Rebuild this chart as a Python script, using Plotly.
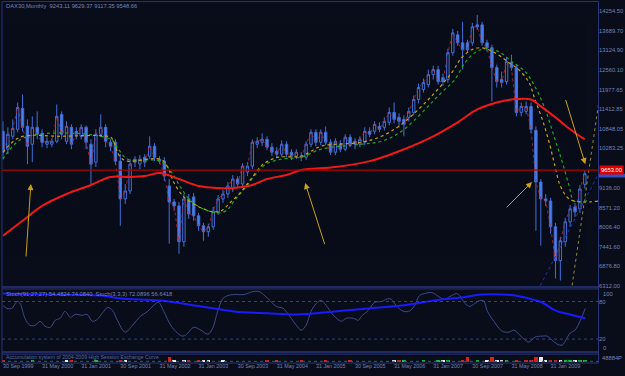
import plotly.graph_objects as go

W, H = 625, 376
BG = "#090d1a"
BORDER = "#283478"
TXT = "#7483b8"
CANDLE = "#4170d8"

# ---------------- data ----------------
opens = [10778,10260,10634,10836,11441,10922,10404,10894,10721,10404,
         10404,10490,11268,10490,10894,10778,10634,10894,10404,9885,
         10692,10894,10461,10461,9914,8819,9050,9971,9827,10029,
         10058,10346,9971,9914,9194,8732,8617,7580,8819,8877,
         8329,8041,7868,8012,8444,8819,8963,9107,9395,9251,
         9597,9770,10404,10461,10548,10318,10202,10116,10404,10173,
         10058,10058,10029,10404,10750,10461,10750,10461,10173,10404,
         10260,10606,10490,10404,10461,10778,10778,10922,10894,11038,
         11326,11182,11124,11182,11326,11700,11989,12133,12421,12565,
         12334,12277,13055,13574,13343,13343,13343,13862,13862,13343,
         13199,12623,12277,12219,12767,12623,11326,11355,11499,10807,
         9309,8819,8761,8012,7032,7580,8156,8588,8531,9243.11]
highs = [11067,10894,11124,11614,11845,11124,11211,11355,10836,10606,
         10577,11556,11355,11067,10980,10894,10980,10951,10548,10836,
         11268,10980,10548,10548,10116,9251,9971,10058,10087,10116,
         10634,10433,10058,10029,9395,8819,8732,8963,8963,8992,
         8415,8127,8098,8588,8934,9079,9309,9511,9482,9856,
         9885,10548,10606,10721,10634,10433,10318,10519,10490,10260,
         10260,10173,10490,10836,10836,10836,10922,10548,10577,10519,
         10692,10692,10577,10634,10894,10894,11067,11038,11182,11470,
         11614,11297,11240,11470,11816,12162,12306,12565,12680,12680,
         12450,13170,13747,13689,13948,13430,13919,14150,13948,13430,
         13285,12709,12507,12911,12997,12709,11614,11643,11614,10922,
         9395,8963,8848,8127,7724,8271,8646,8704,9223,9629.37]
lows = [9971,10116,10548,10750,10778,9827,9885,10548,10318,10289,
        10318,10433,10548,10404,10260,10548,10548,10260,9251,9741,
        10606,10318,10202,9799,8041,8675,8963,9741,9683,9741,
        9971,9914,9827,9338,7522,8473,7234,7436,8243,8185,
        7897,7609,7724,7926,8358,8704,8848,9021,9136,9165,
        9482,9683,10289,10346,10231,10058,10000,10029,10029,9943,
        9971,9914,9943,10318,10346,10375,10375,10087,10087,10173,
        10202,10318,10260,10318,10375,10606,10692,10750,10807,10951,
        11009,10894,10634,11067,11240,11585,11902,12046,12277,12133,
        12104,12190,12968,13257,12565,13055,13257,13718,13257,13084,
        11643,12046,12046,12133,12536,11211,11211,11268,10721,7897,
        7465,8617,7810,6514,6456,7436,8012,8300,8415,9117.35]
closes = [10173,10692,10865,11470,10894,10346,10894,10692,10461,10490,
          10490,11211,10692,10922,10404,10692,10894,10461,9827,10692,
          10894,10490,10346,9914,8819,9050,9827,9885,9971,9885,
          10346,10029,9914,9482,8732,8617,7580,8819,8387,8329,
          8041,7868,8012,8473,8819,8963,9194,9395,9251,9770,
          9770,10461,10490,10548,10318,10173,10116,10404,10116,10058,
          10173,10029,10404,10750,10461,10750,10461,10173,10490,10260,
          10606,10404,10404,10548,10778,10692,10980,10836,11067,11326,
          11124,11067,10980,11355,11700,12046,12190,12421,12565,12219,
          12219,13055,13631,13343,13141,13141,13804,13804,13343,13199,
          12623,12219,12190,12796,12623,11326,11499,11499,10836,9309,
          8819,8761,8012,7032,7609,8156,8531,8444,9107,9548.66]
bars = list(range(len(closes)))

# slow red moving average (bar index, price)
ma_red_x = [0,4,8,13,18,22,26,29,32,36,40,44,47,51,54,58,61,68,75,81,88,93,97,101,104,108,110,113,116,118,119]
ma_red_y = [7753,8185,8617,8963,9223,9453,9453,9482,9568,9395,9194,9136,9136,9223,9395,9511,9655,9741,9914,
            10202,10634,11038,11413,11614,11700,11700,11499,11182,10836,10634,10548]

# yellow dotted moving average
ma_yel_x = [0,3.5,11.7,22,22.6,24,25.5,32.2,33.7,34.9,36.8,39,41,43.1,44.6,46.6,48.7,50.7,52.8,54.2,56.3,61,
            65.1,73.3,77.4,81.5,87,91.8,93.8,95.9,97.9,100.6,103.5,105.5,107.6,108.8,110.3,111.7,112.9,114,
            115.8,118.5,122]
ma_yel_y = [10173,10606,10634,10606,10490,10029,9914,9971,9741,9309,8905,8675,8531,8444,8473,8732,9021,9395,
            9770,9914,10029,10058,10346,10461,10634,10980,11700,12478,12911,13141,13199,13055,12767,12565,
            12190,11700,11124,10461,9770,9194,8819,8732,8761]

# green dotted moving average
ma_grn_x = [0,4.5,22,23.6,25.5,32.2,34.3,36.3,38.4,41,43.5,45.6,47.6,49.7,51.7,53.8,56.9,61,65.1,73.3,77.4,
            81.5,89.7,92.4,94.5,96.5,98.6,101.4,104.1,106.8,108.8,110.9,112.9,114.4,115.8,116.8,119.5]
ma_grn_y = [9971,10606,10548,10260,9971,9914,9626,9165,8761,8531,8415,8473,8819,9165,9539,9827,9971,10029,
            10260,10404,10490,10778,11902,12277,12767,13055,13170,13084,12796,12507,12075,11413,10548,9885,
            9194,8761,8761]

# hand-drawn dotted trend lines on the right
trend_olive_x = [116.4, 122.6]
trend_olive_y = [6312, 12334]
trend_blue_x = [109.9, 122.6]
trend_blue_y = [6312, 9770]

# yellow arrows: (tail bar, tail price, head bar, head price)
arrows = [(4.7, 7110, 5.7, 9251),
          (65.9, 7465, 61.8, 9280),
          (102.7, 8531, 108.2, 9309),
          (115.0, 11730, 119.1, 9827)]

hline_price = 9653.00

# stochastic (3,3,3) main line readings
stoch_k_x = [0,0.8,1.8,2.9,3.5,4.5,5.5,6.6,7.6,8.6,9.7,10.7,11.7,12.7,13.8,14.8,16.2,17.2,18.3,19.3,20.3,21.4,
             22.4,23.4,25,26.5,28.1,29.6,30.8,31.8,32.9,34.3,35.7,36.8,37.8,39,40.5,41.9,42.9,43.9,45,46,47.2,
             49.3,51.1,52.4,54.2,55.9,57.3,58.5,60,61,62,63,64.1,65.1,66.1,67.6,69.2,70.2,71.7,72.7,73.3,74.7,
             76,77.4,79.1,80.1,81.5,83,84.2,85.2,86.2,87.7,89.1,90.3,91.4,92.8,93.4,94.5,95.5,96.5,97.5,98.4,
             99,100.4,102.1,103.5,104.5,105.7,106.8,107.6,108.8,110.3,111.3,112.3,113.3,114.4,115,116,117,
             118.1,119.1]
stoch_k_v = [73.7,69,69,80,76.8,53.2,42.1,42.1,48.4,40.5,38.9,50,53.2,64.2,54.7,59.5,57.9,59.5,48.4,51.6,61.1,
             70.5,65.8,50,31.1,42.1,56.3,64.2,73.7,78.4,64.2,42.1,29.5,24.7,29.5,38.9,34.2,27.9,37.4,64.2,84.7,
             89.5,91.1,91.1,95.8,95.8,84.7,72.1,69,57.9,42.1,34.2,42.1,64.2,76.8,81.6,73.7,57.9,48.4,53.2,53.2,
             50,56.3,65.8,78.4,80,84.7,76.8,65.8,64.2,73.7,89.5,92.6,94.2,87.9,83.2,87.9,92.6,89.5,76.8,72.1,
             76.8,81.6,80,65.8,48.4,32.6,31.1,34.2,26.3,18.4,15.3,23.2,24.7,24.7,18.4,12.1,10.5,16.8,29.5,34.2,
             50,69]
# stochastic (91,27,27) readings
stoch_s_x = [0,9.7,20,24,32.2,40.5,47.2,54.2,61,67.8,74.7,81.5,85.6,89.7,93.8,97.9,102.1,104.7,107.6,110.3,
             112.9,115.8,119.1]
stoch_s_v = [92.6,91.1,89.5,84.7,81.6,72.1,64.2,61.1,59.5,64.2,69,73.7,78.4,83.2,86.3,91.1,91.1,89.5,84.7,78.4,
             65.8,59.5,53.2]
stoch_levels = [20, 80]
stoch_edge_labels = ["100", "0"]

# bottom signal panel
sig_idx = [0,6,13,14,19,24,25,34,35,37,38,40,41,42,45,54,56,61,66,71,80,81,82,86,89,90,91,94,95,97,
           99,100,101,102,103,105,107,108,109,110,111,112,113,114,115,116,117,118,119]
sig_col = ['r','g','w','r','g','r','w','r','w','w','r','r','w','w','w','r','r','r','r','r','w','r','g','g','g',
           'w','g','r','r','g','w','r','w','w','g','r','r','r','r','w','w','r','r','w','g','g','w','g','g']
sig_tall = [34, 95, 100, 109, 110]

# axis labels
price_ticks = [6312.00, 6876.80, 7441.60, 8006.40, 8571.20, 9136.00, 10283.25, 10848.05,
               11412.85, 11977.65, 12560.10, 13124.90, 13689.70, 14254.50]
date_labels = ["30 Sep 1999", "31 May 2000", "31 Jan 2001", "30 Sep 2001", "31 May 2002", "31 Jan 2003",
               "30 Sep 2003", "31 May 2004", "31 Jan 2005", "30 Sep 2005", "31 May 2006", "31 Jan 2007",
               "30 Sep 2007", "31 May 2008", "31 Jan 2009"]
date_step = 8
title_text = "DAX30,Monthly  9243.11 9629.37 9117.35 9548.66"
stoch_text = "Stoch(91,27,27) 54.4824 74.0840  Stoch(3,3,3) 72.0896 56.6418"
sig_text = "Accumulation system of 2004-2009 High Session Exchange Curve"

# ---------------- layout helpers ----------------
def px_x(p):
    return p / W

def px_y(p):
    return 1 - p / H

XD = [px_x(2), px_x(598)]
Y1 = [px_y(288), px_y(3)]
Y2 = [px_y(353.5), px_y(290.5)]
Y3 = [px_y(364), px_y(356.5)]
XR = [-0.2, 121.7]
FONT = "Liberation Sans"

fig = go.Figure()

# candles
fig.add_trace(go.Candlestick(
    x=bars, open=opens, high=highs, low=lows, close=closes,
    xaxis="x", yaxis="y", whiskerwidth=0, hoverinfo="skip",
    increasing=dict(line=dict(color=CANDLE, width=1), fillcolor=BG),
    decreasing=dict(line=dict(color=CANDLE, width=1), fillcolor="#4a7ff0"),
))
# red dotted close trace
fig.add_trace(go.Scatter(x=bars, y=closes, mode="lines", xaxis="x", yaxis="y",
                         line=dict(color="#c02828", width=1, dash="dot"), opacity=0.8, hoverinfo="skip"))
# moving averages
fig.add_trace(go.Scatter(x=ma_grn_x, y=ma_grn_y, mode="lines", xaxis="x", yaxis="y",
                         line=dict(color="#1ea81e", width=1.2, dash="dot", shape="spline"), hoverinfo="skip"))
fig.add_trace(go.Scatter(x=ma_yel_x, y=ma_yel_y, mode="lines", xaxis="x", yaxis="y",
                         line=dict(color="#c8a010", width=1.2, dash="dot", shape="spline"), hoverinfo="skip"))
fig.add_trace(go.Scatter(x=ma_red_x, y=ma_red_y, mode="lines", xaxis="x", yaxis="y",
                         line=dict(color="#f01818", width=2, shape="spline"), hoverinfo="skip"))
# trend lines
fig.add_trace(go.Scatter(x=trend_olive_x, y=trend_olive_y, mode="lines", xaxis="x", yaxis="y",
                         line=dict(color="#8a8a30", width=1, dash="dot"), hoverinfo="skip"))
fig.add_trace(go.Scatter(x=trend_blue_x, y=trend_blue_y, mode="lines", xaxis="x", yaxis="y",
                         line=dict(color="#2030b0", width=1, dash="dot"), hoverinfo="skip"))

# stochastic
fig.add_trace(go.Scatter(x=stoch_k_x, y=stoch_k_v, mode="lines", xaxis="x2", yaxis="y2",
                         line=dict(color="#3c4c8c", width=1, shape="spline"), hoverinfo="skip"))
fig.add_trace(go.Scatter(x=stoch_s_x, y=stoch_s_v, mode="lines", xaxis="x2", yaxis="y2",
                         line=dict(color="#1a1aff", width=2, shape="spline"), hoverinfo="skip"))

# signal bars
cmap = {"r": "#e01c1c", "g": "#12c03c", "w": "#e6e8f0"}
fig.add_trace(go.Scatter(x=[XR[0], XR[1]], y=[0.3, 0.3], mode="lines", xaxis="x3", yaxis="y3",
                         line=dict(color="#2a6a40", width=1, dash="dot"), hoverinfo="skip"))
fig.add_trace(go.Bar(x=sig_idx, y=[2.3 if i in sig_tall else 1.1 for i in sig_idx],
                     marker=dict(color=[cmap[c] for c in sig_col], line=dict(width=0)),
                     width=0.7, xaxis="x3", yaxis="y3", hoverinfo="skip"))

shapes = []
def pline(x0, y0, x1, y1, color=BORDER, width=1):
    shapes.append(dict(type="line", xref="paper", yref="paper", x0=px_x(x0), y0=px_y(y0),
                       x1=px_x(x1), y1=px_y(y1), line=dict(color=color, width=width)))

# panel borders
pline(2, 1.5, 598.5, 1.5)
pline(2, 1.5, 2, 365)
pline(598.5, 1.5, 598.5, 365)
pline(2, 288.5, 598.5, 288.5, width=1.5)
pline(2, 290.5, 598.5, 290.5)
pline(2, 354, 598.5, 354, width=1.5)
pline(2, 356, 598.5, 356)
pline(2, 365, 598.5, 365)

# red horizontal line
shapes.append(dict(type="line", xref="x", yref="y", x0=XR[0], x1=XR[1], y0=hline_price, y1=hline_price,
                   line=dict(color="#b00000", width=1.2)))
# current-price marker strip peeking below the red label
shapes.append(dict(type="rect", xref="paper", yref="y", x0=px_x(599), x1=1.0,
                   y0=closes[-1] - 110, y1=closes[-1], fillcolor="#3050c8", line=dict(width=0)))
# stochastic levels
for lv in stoch_levels:
    shapes.append(dict(type="line", xref="x2", yref="y2", x0=XR[0], x1=XR[1], y0=lv, y1=lv,
                       line=dict(color="#36447e", width=1, dash="dot")))

annotations = []
for tx, ty, hx, hy in arrows:
    annotations.append(dict(x=hx, y=hy, ax=tx, ay=ty, xref="x", yref="y", axref="x", ayref="y",
                            text="", showarrow=True, arrowhead=2, arrowsize=1.2, arrowwidth=1,
                            arrowcolor="#c8a018"))

small = dict(family=FONT, size=5.8, color=TXT)
annotations.append(dict(x=px_x(4), y=px_y(6.5), xref="paper", yref="paper", text=title_text,
                        showarrow=False, xanchor="left", yanchor="middle", font=small))
annotations.append(dict(x=px_x(4), y=px_y(296), xref="paper", yref="paper", text=stoch_text,
                        showarrow=False, xanchor="left", yanchor="middle", font=small))
annotations.append(dict(x=px_x(4), y=px_y(359), xref="paper", yref="paper", text=sig_text,
                        showarrow=False, xanchor="left", yanchor="middle",
                        font=dict(family=FONT, size=5.2, color="#5a68a0")))
annotations.append(dict(x=px_x(600), y=px_y(359.5), xref="paper", yref="paper", text="48884P",
                        showarrow=False, xanchor="left", yanchor="middle", font=small))
# stochastic max/min labels (drawn just inside the panel, as in the terminal)
annotations.append(dict(x=px_x(601), y=px_y(295.5), xref="paper", yref="paper", text=stoch_edge_labels[0],
                        showarrow=False, xanchor="left", yanchor="middle", font=small))
annotations.append(dict(x=px_x(601), y=px_y(350), xref="paper", yref="paper", text=stoch_edge_labels[1],
                        showarrow=False, xanchor="left", yanchor="middle", font=small))
# red horizontal-line price label
annotations.append(dict(x=px_x(599), y=hline_price, xref="paper", yref="y", text="%.2f" % hline_price,
                        showarrow=False, xanchor="left", yanchor="middle", bgcolor="#e00000",
                        borderpad=1, font=dict(family=FONT, size=5.8, color="#ffffff")))

axis_common = dict(showgrid=False, zeroline=False, showline=False, ticks="")

fig.update_layout(
    width=W, height=H, margin=dict(l=0, r=0, t=0, b=0),
    paper_bgcolor=BG, plot_bgcolor=BG, showlegend=False, bargap=0,
    font=dict(family=FONT, size=6, color=TXT),
    xaxis=dict(domain=XD, range=XR, anchor="y", showticklabels=False,
               rangeslider=dict(visible=False), **axis_common),
    yaxis=dict(domain=Y1, range=[6283.2, 14495.8], anchor="x", side="right",
               tickvals=price_ticks, ticktext=["%.2f" % v for v in price_ticks],
               tickfont=dict(family=FONT, size=5.8, color=TXT), **axis_common),
    xaxis2=dict(domain=XD, range=XR, anchor="y2", showticklabels=False, **axis_common),
    yaxis2=dict(domain=Y2, range=[0, 100], anchor="x2", side="right",
                tickvals=stoch_levels, ticktext=[str(v) for v in stoch_levels],
                tickfont=dict(family=FONT, size=5.8, color=TXT), **axis_common),
    xaxis3=dict(domain=XD, range=XR, anchor="y3", side="bottom",
                tickvals=[k * date_step for k in range(len(date_labels))], ticktext=date_labels,
                ticklabelposition="outside right",
                tickfont=dict(family=FONT, size=5.4, color=TXT), **axis_common),
    yaxis3=dict(domain=Y3, range=[0, 3], anchor="x3", showticklabels=False, **axis_common),
    shapes=shapes, annotations=annotations,
)

fig.write_html("out.html")
